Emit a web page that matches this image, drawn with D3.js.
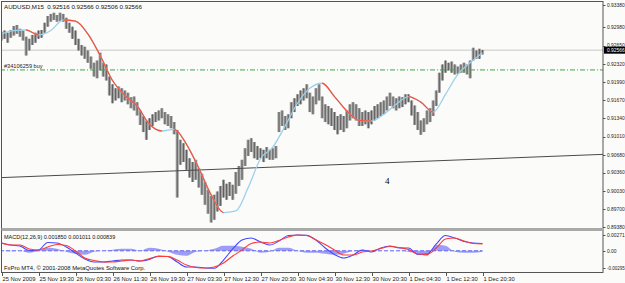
<!DOCTYPE html>
<html>
<head>
<meta charset="utf-8">
<script src="https://cdn.jsdelivr.net/npm/d3@7"></script>
<style>
body { margin: 0; background: #fbfcfa; }
svg { display: block; font-family: "Liberation Sans", Arial, sans-serif; }
</style>
</head>
<body>
<div id="chart"></div>
<script>
var width = 625,
    height = 283;

// price bars, one per slot
var highs = [
  0.9290,0.9292,0.9288,0.9293,0.9300,0.9302,0.9295,0.9292,0.9281,0.9277,
  0.9284,0.9288,0.9292,0.9293,0.9306,0.9318,0.9322,0.9324,0.9320,0.9324,
  0.9322,0.9315,0.9306,0.9299,0.9292,0.9277,0.9266,0.9263,0.9256,0.9245,
  0.9234,0.9238,0.9252,0.9234,0.9231,0.9209,0.9195,0.9188,0.9191,0.9188,
  0.9184,0.9180,0.9172,0.9173,0.9163,0.9148,0.9138,0.9130,0.9134,0.9141,
  0.9145,0.9148,0.9152,0.9145,0.9141,0.9138,0.9127,0.9113,0.9095,0.9089,
  0.9077,0.9062,0.9055,0.9059,0.9044,0.9034,0.9019,0.9005,0.8994,0.8996,
  0.9002,0.9012,0.9023,0.9016,0.9019,0.9014,0.9037,0.9048,0.9059,0.9080,
  0.9095,0.9098,0.9091,0.9084,0.9080,0.9077,0.9082,0.9077,0.9080,0.9084,
  0.9145,0.9148,0.9138,0.9141,0.9163,0.9170,0.9177,0.9184,0.9188,0.9195,
  0.9180,0.9173,0.9188,0.9195,0.9173,0.9159,0.9156,0.9152,0.9145,0.9138,
  0.9141,0.9138,0.9148,0.9159,0.9163,0.9159,0.9152,0.9145,0.9148,0.9145,
  0.9148,0.9156,0.9159,0.9163,0.9166,0.9173,0.9180,0.9173,0.9170,0.9173,
  0.9172,0.9177,0.9177,0.9166,0.9157,0.9145,0.9130,0.9134,0.9148,0.9152,
  0.9166,0.9184,0.9216,0.9231,0.9238,0.9234,0.9236,0.9231,0.9227,0.9231,
  0.9234,0.9231,0.9238,0.9261,0.9256,0.9259,0.9257
];
var lows = [
  0.9274,0.9277,0.9270,0.9279,0.9283,0.9286,0.9281,0.9274,0.9247,0.9256,
  0.9266,0.9270,0.9277,0.9279,0.9288,0.9299,0.9308,0.9311,0.9308,0.9309,
  0.9308,0.9295,0.9288,0.9277,0.9266,0.9256,0.9247,0.9241,0.9234,0.9223,
  0.9209,0.9206,0.9220,0.9209,0.9202,0.9175,0.9161,0.9166,0.9170,0.9163,
  0.9166,0.9159,0.9152,0.9148,0.9139,0.9122,0.9109,0.9095,0.9113,0.9120,
  0.9127,0.9130,0.9134,0.9123,0.9120,0.9116,0.9105,0.8991,0.9050,0.9055,
  0.9041,0.9027,0.9019,0.9023,0.9009,0.8996,0.8978,0.8962,0.8946,0.8951,
  0.8966,0.8976,0.8991,0.8987,0.8994,0.8987,0.8998,0.9012,0.9023,0.9048,
  0.9066,0.9073,0.9062,0.9059,0.9062,0.9055,0.9062,0.9059,0.9059,0.9062,
  0.9109,0.9120,0.9113,0.9116,0.9134,0.9145,0.9156,0.9159,0.9166,0.9170,
  0.9145,0.9141,0.9159,0.9166,0.9134,0.9127,0.9123,0.9120,0.9113,0.9105,
  0.9113,0.9109,0.9116,0.9130,0.9134,0.9130,0.9120,0.9120,0.9123,0.9116,
  0.9123,0.9130,0.9134,0.9138,0.9141,0.9148,0.9156,0.9152,0.9148,0.9152,
  0.9154,0.9159,0.9163,0.9139,0.9122,0.9113,0.9104,0.9109,0.9123,0.9127,
  0.9138,0.9156,0.9180,0.9202,0.9216,0.9220,0.9216,0.9213,0.9214,0.9216,
  0.9216,0.9213,0.9206,0.9238,0.9241,0.9241,0.9249
];

// moving average, every 4th slot
var maStep = 4;
var maValues = [
  0.9286,0.9292,0.9293,0.9284,0.9292,0.9311,0.9309,0.9286,0.9247,0.9202,
  0.9175,0.9156,0.9123,0.9111,0.9114,0.9087,0.9044,0.8996,0.8964,0.8967,
  0.9009,0.9061,0.9082,0.9120,0.9161,0.9188,0.9197,0.9173,0.9147,0.9130,
  0.9129,0.9141,0.9159,0.9173,0.9163,0.9145,0.9177,0.9213,0.9234,0.9252
];

// MACD(12,26,9), every 3rd slot
var macdStep = 3;
var macdMain = [
  0.00134,0.00099,0.00082,0.00005,0.00014,0.00142,0.00134,0.00065,-0.00038,-0.00141,
  -0.00192,-0.00192,-0.00175,-0.00158,-0.00158,-0.00175,-0.00149,-0.00089,-0.00098,-0.00192,
  -0.00278,-0.00278,-0.00295,-0.00300,-0.00158,0.00031,0.00185,0.00220,0.00151,0.00099,
  0.00168,0.00262,0.00271,0.00265,0.00185,0.00048,-0.00063,-0.00123,-0.00072,0.00014,
  -0.00021,0.00048,0.00082,0.00048,0.00048,-0.00063,-0.00055,0.00117,0.00262,0.00220,
  0.00160,0.00134,0.00125
];
var macdSignal = [
  0.00134,0.00099,0.00099,0.00031,0.00014,0.00065,0.00108,0.00091,-0.00003,-0.00123,
  -0.00166,-0.00192,-0.00192,-0.00175,-0.00158,-0.00175,-0.00132,-0.00098,-0.00098,-0.00158,
  -0.00244,-0.00286,-0.00295,-0.00278,-0.00209,-0.00089,0.00014,0.00125,0.00151,0.00134,
  0.00177,0.00237,0.00271,0.00262,0.00185,0.00108,0.00014,-0.00072,-0.00072,-0.00021,
  -0.00003,0.00039,0.00074,0.00057,0.00022,-0.00055,-0.00063,0.00048,0.00202,0.00220,
  0.00168,0.00125,0.00117
];
var macdHist = [
  0,-0.00009,0,-0.00034,0,0.00052,0.00034,-0.00017,-0.00052,-0.00069,
  -0.00017,0,0.00017,0.00034,0.00034,0,0.00052,0.00034,-0.00017,-0.00069,
  -0.00086,-0.00017,0,0.00034,0.00086,0.00086,0.00069,0.00034,-0.00034,-0.00017,
  0.00052,0.00052,0,-0.00034,-0.00034,-0.00052,-0.00069,-0.00052,0,0.00017,
  0,0,0,0,-0.00017,-0.00052,-0.00086,0.00103,0.00086,-0.00017,
  -0.00034,-0.00034,-0.00017
];

var timeLabels = ["25 Nov 2009","25 Nov 19:30","26 Nov 03:30","26 Nov 11:30","26 Nov 19:30",
  "27 Nov 03:30","27 Nov 12:30","27 Nov 20:30","30 Nov 04:30","30 Nov 12:30",
  "30 Nov 20:30","1 Dec 04:30","1 Dec 12:30","1 Dec 20:30"];
var timeStep = 12;

var priceTicks = [0.93380,0.92980,0.92650,0.92320,0.91990,0.91670,0.91340,
  0.91010,0.90680,0.90360,0.90030,0.89700,0.89380];
var macdTicks = [0.00271, 0, -0.00295];
var macdTickLabels = ["0.00271", "0.00", "-0.00295"];

var bidPrice = 0.92566;
var orderPrice = 0.9221;
var trendSlots = [0, 195.6],
    trendPrices = [0.9027, 0.9069];

var title = "AUDUSD,M15  0.92516 0.92566 0.92506 0.92566";
var macdTitle = "MACD(12,26,9) 0.001850 0.001011 0.000839";

var plotRight = 603;

var x = d3.scaleLinear().domain([0, 156]).range([1.5, 482.5]);
var y = d3.scaleLinear().domain([0.8938, 0.9338]).range([227, 5]);
var ym = d3.scaleLinear().domain([-0.00295, 0.00271]).range([268, 235]);

var svg = d3.select("#chart").append("svg")
    .attr("width", width)
    .attr("height", height);

svg.append("rect").attr("width", width).attr("height", height).attr("fill", "#fbfcfa");

var defs = svg.append("defs");
defs.append("clipPath").attr("id", "mainClip")
  .append("rect").attr("x", 1).attr("y", 1.5).attr("width", plotRight - 1).attr("height", 226.5);
defs.append("clipPath").attr("id", "macdClip")
  .append("rect").attr("x", 1).attr("y", 231.5).attr("width", plotRight - 1).attr("height", 40);

var main = svg.append("g").attr("clip-path", "url(#mainClip)");

// bid line
main.append("line")
    .attr("x1", 0).attr("x2", plotRight)
    .attr("y1", y(bidPrice)).attr("y2", y(bidPrice))
    .attr("stroke", "#c8c8c8").attr("stroke-width", 1);

// bars: a soft body across the slot, darker stem in the middle
main.selectAll("line.bar")
  .data(highs)
  .enter().append("line")
    .attr("class", "bar")
    .attr("x1", function(d, i) { return x(i); })
    .attr("x2", function(d, i) { return x(i); })
    .attr("y1", function(d) { return y(d); })
    .attr("y2", function(d, i) { return y(lows[i]); })
    .attr("stroke", "#a2a2a2")
    .attr("stroke-width", 3.1);
main.selectAll("line.stem")
  .data(highs)
  .enter().append("line")
    .attr("class", "stem")
    .attr("x1", function(d, i) { return x(i); })
    .attr("x2", function(d, i) { return x(i); })
    .attr("y1", function(d) { return y(d); })
    .attr("y2", function(d, i) { return y(lows[i]); })
    .attr("stroke", "#5e5e5e")
    .attr("stroke-width", 1);

// order line
main.append("line")
    .attr("x1", 0).attr("x2", plotRight)
    .attr("y1", y(orderPrice)).attr("y2", y(orderPrice))
    .attr("stroke", "#3fa83f").attr("stroke-width", 1)
    .attr("stroke-dasharray", "5,2,1,2");
main.append("text")
    .attr("x", 4).attr("y", y(orderPrice) - 1.5)
    .attr("font-size", 5.6).attr("fill", "#222")
    .text("#34106259 buy");

// trend line
main.append("line")
    .attr("x1", x(trendSlots[0])).attr("x2", x(trendSlots[1]))
    .attr("y1", y(trendPrices[0])).attr("y2", y(trendPrices[1]))
    .attr("stroke", "#4a4a4a").attr("stroke-width", 1);

// moving average: light blue when rising, red when falling
var maLine = d3.line()
    .x(function(d, i) { return x(i * maStep); })
    .y(function(d) { return y(d); })
    .curve(d3.curveMonotoneX);

var redClip = defs.append("clipPath").attr("id", "maRed");
for (var i = 0; i < maValues.length - 1; i++) {
  if (maValues[i + 1] < maValues[i]) {
    redClip.append("rect")
      .attr("x", x(i * maStep)).attr("y", 0)
      .attr("width", x((i + 1) * maStep) - x(i * maStep)).attr("height", 230);
  }
}
main.append("path").datum(maValues)
    .attr("d", maLine).attr("fill", "none")
    .attr("stroke", "#9ccfea").attr("stroke-width", 1.3);
main.append("path").datum(maValues)
    .attr("d", maLine).attr("fill", "none")
    .attr("clip-path", "url(#maRed)")
    .attr("stroke", "#f4553f").attr("stroke-width", 1.3);

main.append("text")
    .attr("x", 4).attr("y", 9)
    .attr("font-size", 6.2).attr("fill", "#111")
    .style("white-space", "pre")
    .text(title);

main.append("text")
    .attr("x", 385).attr("y", 184)
    .attr("font-family", "'Liberation Serif', 'Times New Roman', serif")
    .attr("font-size", 9).attr("fill", "#000")
    .text("4");

// MACD panel
var sub = svg.append("g").attr("clip-path", "url(#macdClip)");

sub.append("path").datum(macdHist)
    .attr("d", d3.area()
      .x(function(d, i) { return x(i * macdStep); })
      .y0(ym(0))
      .y1(function(d) { return ym(d); })
      .curve(d3.curveMonotoneX))
    .attr("fill", "#8c8cf6").attr("opacity", 0.85);

sub.append("line")
    .attr("x1", 0).attr("x2", x(156))
    .attr("y1", ym(0)).attr("y2", ym(0))
    .attr("stroke", "#6262f0").attr("stroke-width", 1)
    .attr("stroke-dasharray", "4,2");

var macdLine = d3.line()
    .x(function(d, i) { return x(i * macdStep); })
    .y(function(d) { return ym(d); })
    .curve(d3.curveMonotoneX);

sub.append("path").datum(macdMain)
    .attr("d", macdLine).attr("fill", "none")
    .attr("stroke", "#4646ff").attr("stroke-width", 1.1);
sub.append("path").datum(macdSignal)
    .attr("d", macdLine).attr("fill", "none")
    .attr("stroke", "#ff3a3a").attr("stroke-width", 1.1);

sub.append("text")
    .attr("x", 4).attr("y", 238.5)
    .attr("font-size", 5.5).attr("fill", "#111")
    .text(macdTitle);
sub.append("text")
    .attr("x", 4).attr("y", 270)
    .attr("font-size", 5.9).attr("fill", "#111")
    .text("FxPro MT4, \u00a9 2001-2008 MetaQuotes Software Corp.");

// frames
svg.append("rect")
    .attr("x", 1.5).attr("y", 1.5)
    .attr("width", plotRight - 1.5).attr("height", 271)
    .attr("fill", "none").attr("stroke", "#555").attr("stroke-width", 1);
svg.append("rect")
    .attr("x", 1.5).attr("y", 228).attr("width", plotRight - 1.5).attr("height", 3)
    .attr("fill", "#a9a9a9");

// right price axis
var axisG = svg.append("g").attr("font-size", 4.9).attr("fill", "#222");
axisG.selectAll("line.ptick")
  .data(priceTicks)
  .enter().append("line")
    .attr("x1", plotRight).attr("x2", plotRight + 2.5)
    .attr("y1", function(d) { return Math.round(y(d)) + 0.5; })
    .attr("y2", function(d) { return Math.round(y(d)) + 0.5; })
    .attr("stroke", "#555");
axisG.selectAll("text.ptick")
  .data(priceTicks)
  .enter().append("text")
    .attr("x", plotRight + 4)
    .attr("y", function(d) { return y(d) + 1.8; })
    .text(function(d) { return d.toFixed(5); });

axisG.append("rect")
    .attr("x", plotRight + 1).attr("y", y(bidPrice) - 3.5)
    .attr("width", 22).attr("height", 7).attr("fill", "#000");
axisG.append("text")
    .attr("x", plotRight + 4).attr("y", y(bidPrice) + 1.8)
    .attr("fill", "#fff")
    .text(bidPrice.toFixed(5));

axisG.selectAll("line.mtick")
  .data(macdTicks)
  .enter().append("line")
    .attr("x1", plotRight).attr("x2", plotRight + 2.5)
    .attr("y1", function(d) { return Math.round(ym(d)) + 0.5; })
    .attr("y2", function(d) { return Math.round(ym(d)) + 0.5; })
    .attr("stroke", "#555");
axisG.selectAll("text.mtick")
  .data(macdTicks)
  .enter().append("text")
    .attr("x", plotRight + 4)
    .attr("y", function(d) { return ym(d) + 1.8; })
    .attr("font-size", function(d, i) { return macdTickLabels[i].length > 7 ? 4.5 : 4.9; })
    .text(function(d, i) { return macdTickLabels[i]; });

// time axis
var timeG = svg.append("g").attr("font-size", 5.8).attr("fill", "#222");
timeG.selectAll("line")
  .data(timeLabels)
  .enter().append("line")
    .attr("x1", function(d, i) { return Math.round(x(i * timeStep)) + 0.5; })
    .attr("x2", function(d, i) { return Math.round(x(i * timeStep)) + 0.5; })
    .attr("y1", 272).attr("y2", 276)
    .attr("stroke", "#555");
timeG.selectAll("text")
  .data(timeLabels)
  .enter().append("text")
    .attr("x", function(d, i) { return x(i * timeStep) + 1; })
    .attr("y", 280.5)
    .text(function(d) { return d; });
</script>
</body>
</html>
